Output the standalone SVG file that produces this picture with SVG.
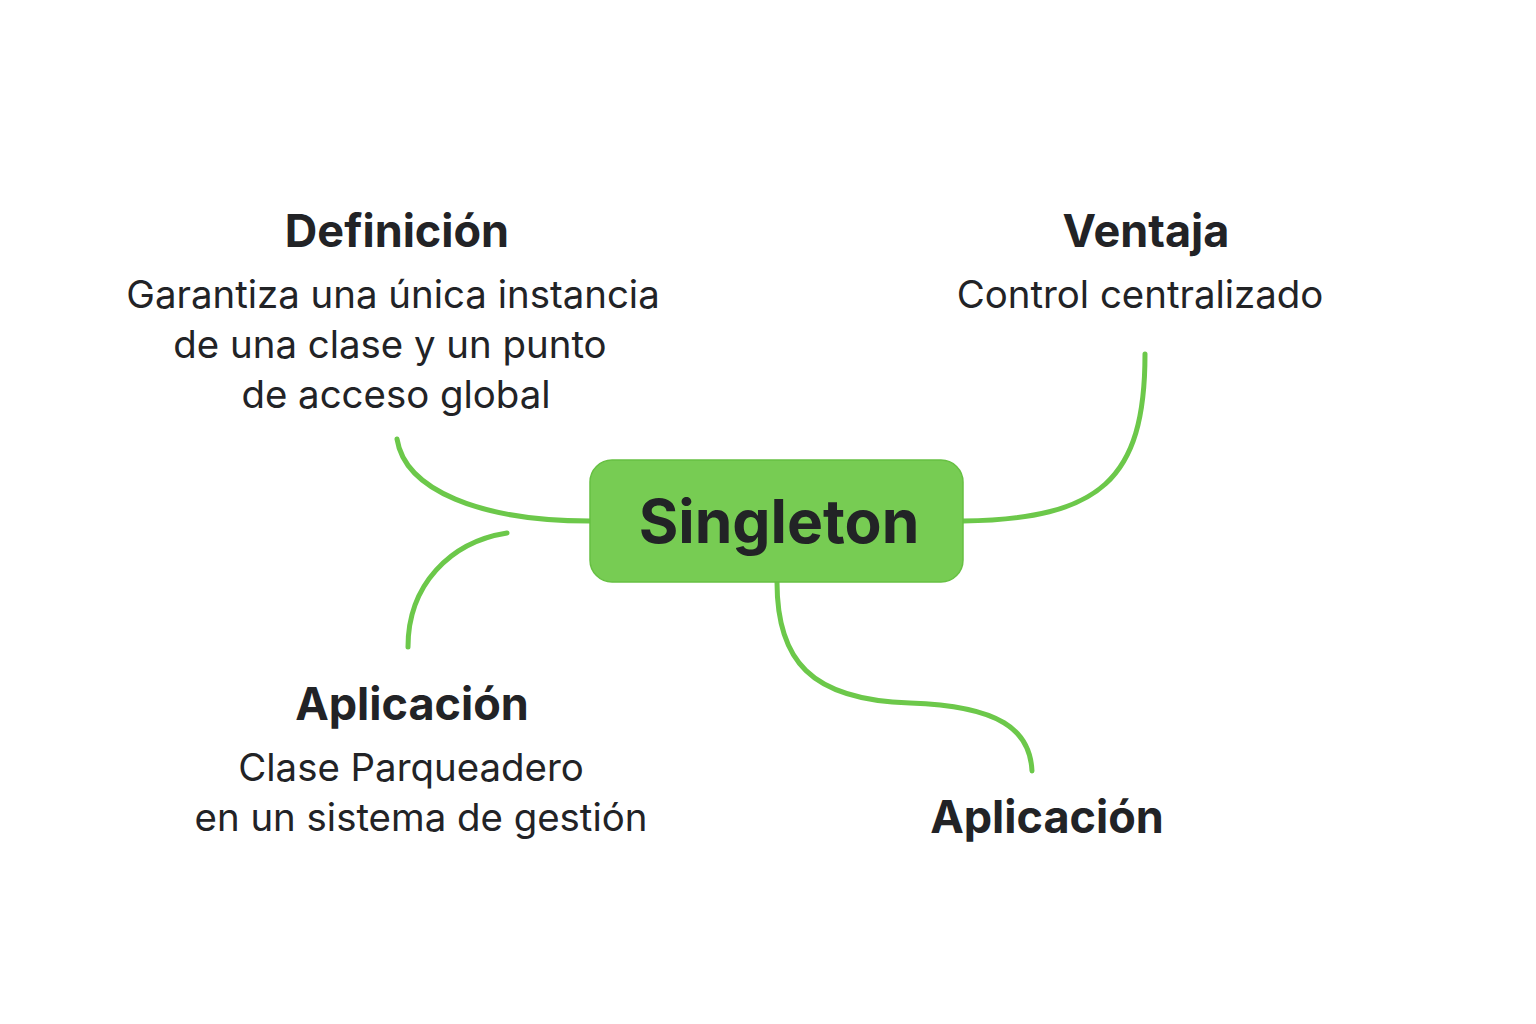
<svg xmlns="http://www.w3.org/2000/svg" width="1536" height="1024" viewBox="0 0 1536 1024">
<style>
.t{font-family:Inter,"Noto Sans","DejaVu Sans",sans-serif;fill:#222326;text-anchor:middle}
.h{font-size:45px;font-weight:700}
.b{font-size:38.4px;font-weight:400}
.c{fill:none;stroke:#6cc84a;stroke-width:5;stroke-linecap:round}
</style>
<rect width="1536" height="1024" fill="#ffffff"/>
<g id="connectors">
<path class="c" d="M397,439 C405,490 480,521 590,521"/>
<path class="c" d="M507,533 C450,542 408,585 408,647"/>
<path class="c" d="M963,521 C1100,519 1145,480 1145,354"/>
<path class="c" d="M777,582 C777,660 810,700 910,703 C1000,706 1030,730 1032,771"/>
</g>
<g id="singleton">
<rect x="590" y="460" width="373" height="122" rx="22" fill="#77cc53" stroke="#67c043" stroke-width="1.5"/>
<text class="t" x="779" y="543" font-size="60.5" font-weight="700">Singleton</text>
</g>
<g id="definicion">
<text class="t h" x="397" y="247">Definición</text>
<text class="t b" x="393" y="308">Garantiza una única instancia</text>
<text class="t b" x="390" y="358">de una clase y un punto</text>
<text class="t b" x="396" y="408">de acceso global</text>
</g>
<g id="ventaja">
<text class="t h" x="1146" y="247">Ventaja</text>
<text class="t b" x="1140" y="308">Control centralizado</text>
</g>
<g id="aplicacion1">
<text class="t h" x="412" y="720">Aplicación</text>
<text class="t b" x="411" y="781">Clase Parqueadero</text>
<text class="t b" x="421" y="831">en un sistema de gestión</text>
</g>
<g id="aplicacion2">
<text class="t h" x="1047" y="833">Aplicación</text>
</g>
</svg>
